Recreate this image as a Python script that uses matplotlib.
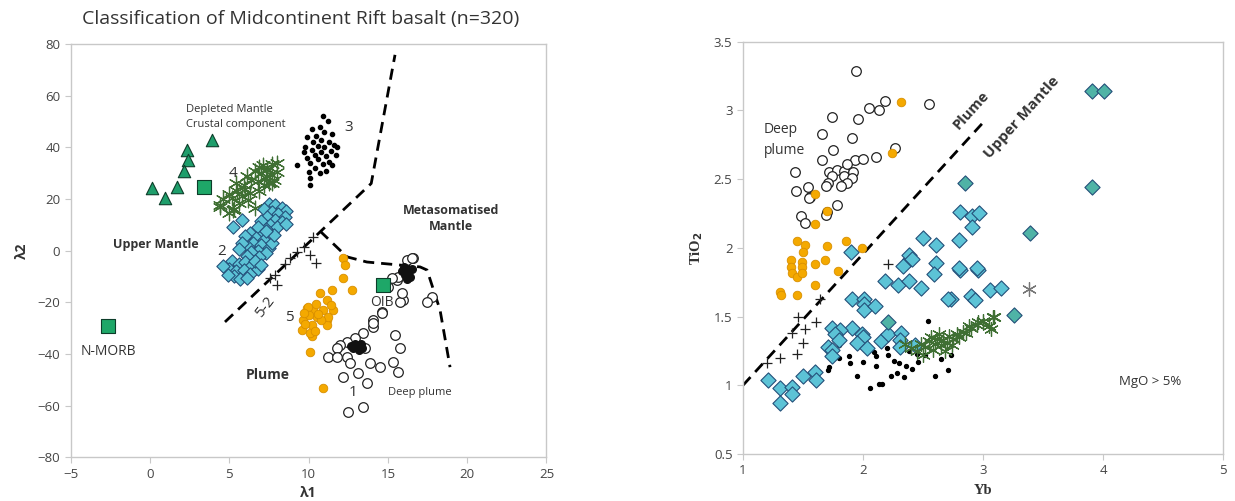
import matplotlib.pyplot as plt
from matplotlib.ticker import FuncFormatter

plt.rcParams['font.family'] = ['Open Sans', 'DejaVu Sans']

# ===============================
# DATA - left panel (lambda1 vs lambda2)
# ===============================

tri_x = [3.91, 2.34, 2.40, 2.14, 0.13, 0.95, 1.70]
tri_y = [42.9, 39.0, 35.1, 30.9, 24.3, 20.4, 24.7]

sq_x = [3.40, -2.65, 14.69]
sq_y = [24.7, -29.2, -13.3]

ast_x = [5.2, 5.5, 5.8, 6.0, 5.6, 6.3, 5.9, 5.4, 6.2, 5.0,
         6.8, 7.0, 7.3, 7.6, 7.4, 7.1, 7.8, 7.5, 6.6, 8.0, 7.2, 6.9, 7.7,
         4.4, 5.0, 4.6, 6.4, 6.6, 6.1, 5.3, 6.9, 4.41, 5.24, 8.0, 7.38, 7.7]
ast_y = [20.5, 23, 21, 24, 18.5, 22.5, 25.5, 26, 19.5, 22,
         27, 30, 28, 29.5, 31.5, 33, 27.5, 26, 31, 30.5, 25.5, 32.5, 33.5,
         17.7, 14.6, 20, 27.5, 16.5, 29, 16, 23, 16.9, 15.8, 33.9, 31.2, 26.2]

dia_x = [7.5, 7.9, 8.3, 8.6, 7.2, 7.7, 8.1, 8.5, 7.4, 7.9, 8.3, 7.0, 7.6, 8.0, 8.6, 7.3, 6.8, 7.1,
         6.3, 6.7, 7.2, 6.0, 6.5, 7.0, 7.5, 6.2, 6.8, 7.3, 5.8, 6.4, 7.7, 6.9, 6.1, 5.6, 7.8, 7.3,
         5.2, 5.6, 6.0, 6.4, 5.0, 5.4, 5.9, 6.3, 6.8, 5.3, 5.7, 4.9, 6.6, 7.0, 6.1,
         5.25, 5.8, 4.6]
dia_y = [18, 17.5, 16.5, 15.5, 16, 15, 14, 13, 13, 12, 11, 11.5, 10, 9, 10.5, 8.5, 9, 6.5,
         7, 5, 4, 5.5, 3, 2, 1, 1.5, 0, -1, 3, -0.5, 3, -2.5, -2, 0.5, 6, 7.5,
         -4, -5, -4.5, -6, -7, -8, -7.5, -9, -7, -10, -11, -9.5, -4, -5.5, -10.5,
         9.2, 11.9, -6]

dot_x = [10.9, 11.2, 10.7, 10.2, 11.0, 11.5, 10.5, 9.9, 10.8, 11.3, 10.3, 11.6, 10.6, 11.0,
         9.8, 10.2, 11.4, 10.8, 10.4, 11.1, 11.7, 9.9, 10.6, 11.3, 10.1, 10.9, 11.5, 10.4,
         9.7, 11.8, 10.0, 9.3, 10.1, 10.1, 11.1, 10.7]
dot_y = [52, 50, 48, 47, 46, 45, 44.5, 44, 43, 42, 42, 41, 40.5, 40,
         40, 39, 38.5, 38, 37, 36.5, 37, 36, 35.5, 34.5, 34, 33.5, 33, 32,
         38, 40, 30.5, 33, 28, 25.4, 31, 30]

blob_x = [16.0, 16.2, 16.3, 16.1, 16.4, 15.9, 16.5, 16.2,
          12.9, 13.1, 13.3, 12.8, 13.2, 13.4, 12.7]
blob_y = [-6.5, -7.5, -8.5, -9.5, -10.2, -8.0, -7.0, -10.8,
          -36.0, -37.0, -36.3, -37.8, -38.5, -37.5, -36.8]

plus_x = [10.3, 9.25, 8.83, 10.1, 10.5, 7.9, 8.0, 7.6, 8.5, 9.7]
plus_y = [5.4, -0.4, -2.9, -1.7, -4.9, -9.4, -13.3, -10.5, -5.0, 1.5]

orange_x = [12.17, 12.30, 12.17, 12.74, 11.47, 10.72, 11.16, 9.90, 10.28, 10.91, 11.54,
            10.53, 11.16, 9.65, 10.21, 11.16, 9.59, 10.21, 10.09, 10.91,
            9.97, 10.09, 11.23, 10.0, 10.5, 10.8, 9.8, 10.4, 11.4, 9.7, 10.6]
orange_y = [-2.8, -5.5, -10.5, -15.2, -15.2, -16.4, -19.1, -22.2, -22.9, -22.9, -22.9,
            -25.7, -26.8, -26.8, -28.8, -28.8, -30.7, -33.0, -39.2, -53.1,
            -21.8, -31.9, -25.6, -25, -20.5, -27, -28.5, -31, -21, -24, -24.5]

open_x = [16.59, 15.58, 15.01, 15.96, 17.78, 17.47, 14.63, 14.06, 14.06, 13.43, 12.93,
          12.42, 11.98, 11.79, 11.22, 11.79, 12.42, 12.61, 13.56, 13.87, 14.5, 15.45,
          15.77, 15.32, 15.64, 13.11, 12.17, 13.68, 12.48, 13.43,
          16.19, 15.66, 15.76, 15.24, 15.87, 14.61, 14.08, 16.5]
open_y = [-2.8, -11.3, -14.1, -19.1, -17.9, -19.9, -23.7, -26.8, -29.5, -31.9, -33.8,
          -35.3, -36.5, -37.7, -41.2, -41.2, -41.2, -43.6, -37.7, -43.6, -45.1, -32.6,
          -37.7, -43.1, -47.0, -47.4, -48.9, -51.2, -62.4, -60.5,
          -3.6, -10.1, -19.7, -10.7, -16.5, -24.2, -28.1, -2.9]

lineA_x = [4.73, 13.95, 15.45]
lineA_y = [-27.6, 26.0, 75.8]
lineB_x = [10.72, 12.42, 13.68, 17.03, 17.47, 18.29, 18.92]
lineB_y = [7.6, -2.4, -4.4, -6.3, -7.5, -23.0, -45.1]

# ===============================
# DATA - right panel (Yb vs TiO2)
# ===============================

r_open_x = [1.94, 1.74, 1.96, 2.05, 2.13, 2.18, 2.55, 1.66, 1.91, 1.75, 1.66, 1.93, 2.00,
            2.11, 2.27, 1.43, 1.72, 1.78, 1.84, 1.87, 1.92, 1.74, 1.84, 1.91, 1.71, 1.87,
            1.69, 1.82, 1.54, 1.44, 1.56, 1.55, 1.78, 1.70, 1.69, 1.48, 1.52]
r_open_y = [3.29, 2.95, 2.94, 3.02, 3.00, 3.07, 3.05, 2.83, 2.80, 2.71, 2.64, 2.64, 2.65,
            2.66, 2.73, 2.55, 2.55, 2.57, 2.56, 2.61, 2.55, 2.52, 2.52, 2.51, 2.47, 2.47,
            2.45, 2.45, 2.44, 2.41, 2.37, 2.36, 2.31, 2.26, 2.24, 2.23, 2.18]

r_orange_x = [2.32, 2.24, 1.60, 1.70, 1.60, 1.45, 1.52, 1.70, 1.86, 1.99, 1.50, 1.40, 1.49,
              1.40, 1.49, 1.60, 1.68, 1.41, 1.45, 1.49, 1.79, 1.60, 1.31, 1.32, 1.45]
r_orange_y = [3.06, 2.69, 2.39, 2.27, 2.17, 2.05, 2.02, 2.01, 2.05, 2.00, 1.97, 1.91, 1.90,
              1.86, 1.86, 1.88, 1.91, 1.82, 1.79, 1.82, 1.83, 1.73, 1.68, 1.66, 1.66]

r_dot_x = [2.54, 1.88, 1.80, 1.89, 2.00, 2.11, 2.21, 2.11, 1.95, 2.06, 2.13, 2.16, 2.23,
           2.28, 2.34, 2.30, 2.36, 2.41, 2.46, 2.52, 2.60, 2.71, 2.73, 1.71, 1.80, 2.03,
           2.09, 2.20, 2.26, 2.45, 1.72, 2.38, 2.65]
r_dot_y = [1.47, 1.21, 1.20, 1.16, 1.17, 1.21, 1.22, 1.14, 1.07, 0.98, 1.01, 1.01, 1.07,
           1.09, 1.06, 1.16, 1.14, 1.12, 1.17, 1.22, 1.07, 1.11, 1.22, 1.11, 1.29, 1.28,
           1.24, 1.27, 1.18, 1.23, 1.13, 1.25, 1.19]

r_ast_x = [2.40, 2.45, 2.48, 2.52, 2.55, 2.58, 2.60, 2.62, 2.65, 2.67, 2.70, 2.72, 2.75, 2.78,
           2.80, 2.83, 2.86, 2.90, 2.95, 3.00, 3.05, 3.08, 2.63, 2.57, 2.68, 2.50, 2.35, 2.74,
           3.09, 3.07, 2.96, 2.88]
r_ast_y = [1.27, 1.25, 1.30, 1.28, 1.32, 1.26, 1.30, 1.34, 1.29, 1.33, 1.31, 1.36, 1.34, 1.37,
           1.35, 1.39, 1.38, 1.42, 1.44, 1.47, 1.43, 1.50, 1.37, 1.35, 1.25, 1.22, 1.30, 1.29,
           1.50, 1.41, 1.46, 1.43]
r_ast_gray_x = [3.38]
r_ast_gray_y = [1.70]

r_plus_x = [2.21, 1.64, 1.46, 1.61, 1.52, 1.41, 1.50, 1.45, 1.31, 1.20]
r_plus_y = [1.88, 1.63, 1.50, 1.46, 1.41, 1.38, 1.31, 1.23, 1.20, 1.16]

r_dia_x = [2.81, 2.91, 2.97, 2.91, 2.80, 2.81, 2.96, 3.06, 3.15, 2.90, 2.93, 2.73,
           2.50, 2.61, 1.90, 2.39, 2.61, 2.80, 2.95, 2.38, 2.41, 2.33, 2.59,
           2.18, 2.29, 2.38, 2.48, 2.71, 1.91, 2.01, 2.01, 2.01, 2.10, 1.91, 1.74, 1.81,
           1.77, 1.99, 2.00, 1.80, 1.95, 2.15, 2.21, 2.32, 2.31, 2.31, 2.43, 1.71, 1.74,
           2.03, 1.74, 1.21, 1.50, 1.60, 1.61, 1.31, 1.41, 1.41, 1.31]
r_dia_y = [2.26, 2.23, 2.25, 2.15, 2.06, 1.84, 1.84, 1.69, 1.71, 1.65, 1.62, 1.63,
           2.07, 2.02, 1.97, 1.92, 1.89, 1.85, 1.85, 1.95, 1.92, 1.87, 1.81,
           1.76, 1.73, 1.76, 1.71, 1.63, 1.63, 1.63, 1.59, 1.55, 1.58, 1.42, 1.42, 1.40,
           1.37, 1.37, 1.35, 1.33, 1.31, 1.32, 1.37, 1.38, 1.33, 1.28, 1.29, 1.28, 1.26,
           1.27, 1.21, 1.04, 1.07, 1.10, 1.04, 0.98, 0.99, 0.94, 0.87]
r_teal_x = [3.91, 4.01, 3.91, 2.85, 3.39, 3.26, 2.21]
r_teal_y = [3.14, 3.14, 2.44, 2.47, 2.11, 1.51, 1.46]

r_line_x = [1.0, 3.02]
r_line_y = [1.0, 2.93]

# ===============================
# PLOT
# ===============================

fig = plt.figure(figsize=(12.35, 5.01), dpi=100)
ax1 = fig.add_axes([0.0572, 0.0872, 0.3853, 0.825])
ax2 = fig.add_axes([0.6016, 0.0938, 0.3887, 0.823])

frame = "#c8c8c8"
tickc = "#454545"

for ax in (ax1, ax2):
    for s in ax.spines.values():
        s.set_color(frame)
        s.set_linewidth(1.0)
    ax.tick_params(colors=frame, labelcolor=tickc, labelsize=9.5, length=4, width=0.8)

# ---- left panel
ax1.plot(lineA_x, lineA_y, color="black", ls=(0, (4, 2.5)), lw=2, zorder=2)
ax1.plot(lineB_x, lineB_y, color="black", ls=(0, (4, 2.5)), lw=2, zorder=2)

ax1.scatter(dot_x, dot_y, s=9, color="black", zorder=3)
ax1.scatter(ast_x, ast_y, s=110, marker=(6, 2, 0), color="#3f6f33", linewidths=0.9, zorder=3)
ax1.scatter(dia_x, dia_y, s=46, marker="D", facecolor="#5cc3d6", edgecolor="#24507a",
            linewidths=0.8, zorder=4)
ax1.scatter(plus_x, plus_y, s=50, marker="+", color="#222222", linewidths=0.9, zorder=5)
ax1.scatter(orange_x, orange_y, s=38, facecolor="#f4a900", edgecolor="#d88f00",
            linewidths=0.6, zorder=4)
ax1.scatter(open_x, open_y, s=48, facecolor="white", edgecolor="#222222", linewidths=0.9, zorder=4)
ax1.scatter(blob_x, blob_y, s=30, color="#111111", zorder=5)
ax1.scatter(tri_x, tri_y, s=80, marker="^", facecolor="#1e9e6b", edgecolor="#0d3d2a",
            linewidths=0.8, zorder=5)
ax1.scatter(sq_x, sq_y, s=95, marker="s", facecolor="#1ea768", edgecolor="#0d3d2a",
            linewidths=0.8, zorder=5)

ax1.set_xlim(-5, 25)
ax1.set_ylim(-80, 80)
ax1.set_xticks(range(-5, 30, 5))
ax1.set_yticks(range(-80, 100, 20))

ax1.set_xlabel("λ1", fontsize=10, fontweight="bold", color="#333333", labelpad=4)
ax1.set_ylabel("λ2", fontsize=10, fontweight="bold", color="#333333", labelpad=6)
fig.text(0.2437, 0.962, "Classification of Midcontinent Rift basalt (n=320)",
         ha="center", va="center", fontsize=14, color="#333333")

tc = "#333333"
ax1.text(2.27, 54.5, "Depleted Mantle", fontsize=8, color=tc, va="center")
ax1.text(2.27, 48.7, "Crustal component", fontsize=8, color=tc, va="center")
ax1.text(-2.33, 2.2, "Upper Mantle", fontsize=9, fontweight="bold", color=tc, va="center")
ax1.text(19.0, 12.3, "Metasomatised\nMantle", fontsize=9, fontweight="bold", color=tc,
         ha="center", va="center", linespacing=1.3)
ax1.text(4.49, -0.5, "2", fontsize=11, color=tc, ha="center", va="center")
ax1.text(5.25, 29.7, "4", fontsize=11, color=tc, ha="center", va="center")
ax1.text(12.56, 47.5, "3", fontsize=11, color=tc, ha="center", va="center")
ax1.text(7.25, -21.8, "5-2", fontsize=11, color=tc, ha="center", va="center", rotation=52)
ax1.text(8.77, -25.7, "5", fontsize=11, color=tc, ha="center", va="center")
ax1.text(14.63, -19.9, "OIB", fontsize=10, color=tc, ha="center", va="center")
ax1.text(-2.64, -39.2, "N-MORB", fontsize=10, color=tc, ha="center", va="center")
ax1.text(7.45, -48.1, "Plume", fontsize=10, fontweight="bold", color=tc, ha="center", va="center")
ax1.text(12.8, -55.1, "1", fontsize=11, color=tc, ha="center", va="center")
ax1.text(16.99, -55.1, "Deep plume", fontsize=8, color=tc, ha="center", va="center")

# ---- right panel
ax2.plot(r_line_x, r_line_y, color="black", ls=(0, (4, 2.5)), lw=2, zorder=2)

ax2.scatter(r_dot_x, r_dot_y, s=8, color="black", zorder=3)
ax2.scatter(r_open_x, r_open_y, s=48, facecolor="white", edgecolor="#222222", linewidths=0.9, zorder=4)
ax2.scatter(r_orange_x, r_orange_y, s=38, facecolor="#f4a900", edgecolor="#d88f00",
            linewidths=0.6, zorder=4)
ax2.scatter(r_dia_x, r_dia_y, s=60, marker="D", facecolor="#5cc3d6", edgecolor="#24507a",
            linewidths=0.8, zorder=4)
ax2.scatter(r_teal_x, r_teal_y, s=60, marker="D", facecolor="#4fb3a6", edgecolor="#24507a",
            linewidths=0.8, zorder=4)
ax2.scatter(r_ast_x, r_ast_y, s=100, marker=(6, 2, 0), color="#3f6f33", linewidths=0.9, zorder=5)
ax2.scatter(r_ast_gray_x, r_ast_gray_y, s=100, marker=(6, 2, 0), color="#777777",
            linewidths=0.9, zorder=5)
ax2.scatter(r_plus_x, r_plus_y, s=60, marker="+", color="#222222", linewidths=0.9, zorder=5)

ax2.set_xlim(1, 5)
ax2.set_ylim(0.5, 3.5)
ax2.set_xticks([1, 2, 3, 4, 5])
ax2.set_yticks([0.5, 1, 1.5, 2, 2.5, 3, 3.5])
ax2.yaxis.set_major_formatter(FuncFormatter(lambda v, p: f"{v:g}"))

ax2.set_xlabel("Yb", fontsize=10.5, fontweight="bold", family="Liberation Serif",
               color="#333333", labelpad=5)
ax2.set_ylabel("TiO$_\\mathbf{2}$", fontsize=10.5, fontweight="bold", family="Liberation Serif",
               color="#333333", labelpad=6)

ax2.text(1.175, 2.86, "Deep", fontsize=10, color=tc, va="center")
ax2.text(1.175, 2.71, "plume", fontsize=10, color=tc, va="center")
ax2.text(2.90, 3.0, "Plume", fontsize=10.5, fontweight="bold", color=tc,
         ha="center", va="center", rotation=48)
ax2.text(3.32, 2.95, "Upper Mantle", fontsize=11, fontweight="bold", color=tc,
         ha="center", va="center", rotation=48)
ax2.text(4.39, 1.03, "MgO > 5%", fontsize=9.5, color=tc, ha="center", va="center")

plt.savefig("out.png", dpi=100)
